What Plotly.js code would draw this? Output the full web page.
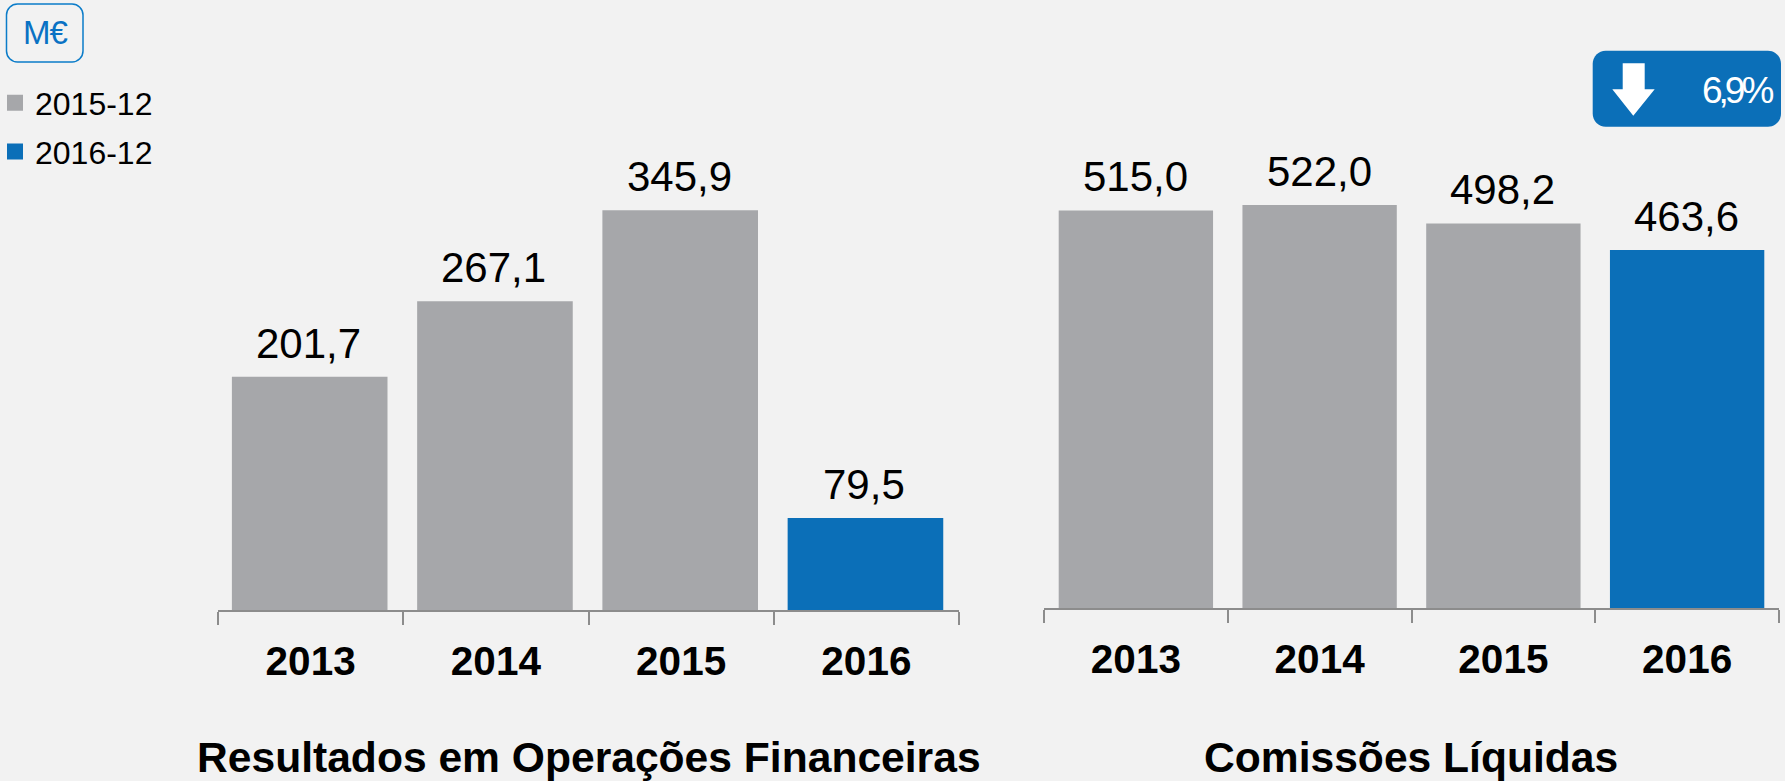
<!DOCTYPE html>
<html><head><meta charset="utf-8">
<script src="https://cdn.plot.ly/plotly-3.0.1.min.js"></script>
<style>html,body{margin:0;padding:0;background:#f2f2f2}#c{width:1785px;height:781px}</style>
</head><body><div id="c"></div>
<script>
const years = ['2013','2014','2015','2016'];
const resultados = [201.7,267.1,345.9,79.5];
const resultadosLabels = ['201,7','267,1','345,9','79,5'];
const comissoes = [515.0,522.0,498.2,463.6];
const comissoesLabels = ['515,0','522,0','498,2','463,6'];
const seriesNames = ['2015-12','2016-12'];
const GREY='#a6a7aa', BLUE='#0b6fb8', AXIS='#8c8c8c';
const W=1785,H=781;
const FONT='"Liberation Sans", Arial, sans-serif';
const px=x=>x/W, py=y=>1-y/H;
const colors=[GREY,GREY,GREY,BLUE];
const bar=(y,text,xa,ya,off)=>({type:'bar',x:years,y,customdata:text,xaxis:xa,yaxis:ya,showlegend:false,hovertemplate:'%{x}: %{customdata}<extra></extra>',
  width:0.84,offset:off,marker:{color:colors,line:{width:0}}});
const leg=(name,color,g)=>({type:'scatter',mode:'markers',x:[null],y:[null],xaxis:'x',yaxis:'y',name,legendgroup:g,showlegend:true,
  marker:{symbol:'square',size:16,color}});
const data=[bar(resultados,resultadosLabels,'x','y',-0.425),bar(comissoes,comissoesLabels,'x2','y2',-0.42),
  leg(seriesNames[0],GREY,'a'),leg(seriesNames[1],BLUE,'b')];
const xax=(d)=>({type:'category',categoryorder:'array',categoryarray:years,domain:d,range:[-0.5,3.5],
  tickson:'boundaries',ticks:'outside',ticklen:13,tickwidth:2,tickcolor:AXIS,showline:true,linecolor:AXIS,linewidth:2,
  showgrid:false,zeroline:false,ticklabelstandoff:14,fixedrange:true,
  tickfont:{family:FONT,size:40.5,color:'#000',weight:'bold'}});
const yax=(base,scale)=>({domain:[1-base/H,1],range:[0,base/scale],visible:false,fixedrange:true});
const titleAnn=(text,x,y)=>({text:'<b>'+text+'</b>',xref:'paper',yref:'paper',x:px(x),y:py(y),xanchor:'center',yanchor:'middle',showarrow:false,
  font:{family:FONT,size:42.6,color:'#000'}});
const valueAnns=(vals,labels,xa,ya,dx)=>vals.map((v,i)=>({text:labels[i],x:i,y:v,xref:xa,yref:ya,xanchor:'center',yanchor:'middle',yshift:33.5,xshift:dx,showarrow:false,
  font:{family:FONT,size:42,color:'#000'}}));
const layout={width:W,height:H,margin:{l:0,r:0,t:0,b:0},paper_bgcolor:'#f2f2f2',plot_bgcolor:'rgba(0,0,0,0)',
  barmode:'overlay',showlegend:true,
  xaxis:xax([px(218),px(959)]),yaxis:yax(610,1.156),
  xaxis2:Object.assign(xax([px(1044),px(1779)]),{anchor:'y2'}),yaxis2:Object.assign(yax(608,0.772),{anchor:'x2'}),
  legend:{x:0,y:py(75.5),xanchor:'left',yanchor:'top',bgcolor:'rgba(0,0,0,0)',tracegroupgap:4,indentation:-5,itemclick:false,itemdoubleclick:false,
    font:{family:FONT,size:32,color:'#000'}},
  annotations:[titleAnn('Resultados em Operações Financeiras',588.7,757),titleAnn('Comissões Líquidas',1411,757),
   ...valueAnns(resultados,resultadosLabels,'x','y',-2),...valueAnns(comissoes,comissoesLabels,'x2','y2',-0.5),
   {text:'<span style="letter-spacing:-1px">M€</span>',xref:'paper',yref:'paper',x:px(44.5),y:py(33),xanchor:'center',yanchor:'middle',showarrow:false,font:{family:FONT,size:33,color:'#0a72c4'}},
   {text:'<span style="letter-spacing:-4px">6,9%</span>',xref:'paper',yref:'paper',x:px(1737),y:py(90),xanchor:'center',yanchor:'middle',showarrow:false,font:{family:FONT,size:37,color:'#fff'}}
  ]};
// pixel-position shapes: unit box and badge with arrow (page furniture, not data)
const P=(x,y)=>px(x).toFixed(5)+','+py(y).toFixed(5);
const rr=(x0,y0,x1,y1,r)=>{const k=r*0.45;return 'M'+P(x0+r,y0)+'L'+P(x1-r,y0)+'C'+P(x1-k,y0)+' '+P(x1,y0+k)+' '+P(x1,y0+r)+'L'+P(x1,y1-r)+'C'+P(x1,y1-k)+' '+P(x1-k,y1)+' '+P(x1-r,y1)+'L'+P(x0+r,y1)+'C'+P(x0+k,y1)+' '+P(x0,y1-k)+' '+P(x0,y1-r)+'L'+P(x0,y0+r)+'C'+P(x0,y0+k)+' '+P(x0+k,y0)+' '+P(x0+r,y0)+'Z';};
layout.shapes=[
 {type:'path',xref:'paper',yref:'paper',path:rr(6.5,4,83,62,11),line:{color:'#0b7cc9',width:1.5},fillcolor:'rgba(0,0,0,0)'},
 {type:'path',xref:'paper',yref:'paper',path:rr(1592.7,50.7,1781,126.7,13),line:{width:0},fillcolor:BLUE},
 {type:'path',xref:'paper',yref:'paper',path:'M'+P(1622.7,63.3)+'L'+P(1644.7,63.3)+'L'+P(1644.7,89.3)+'L'+P(1654.7,89.3)+'L'+P(1633.3,115.7)+'L'+P(1612.3,89.3)+'L'+P(1622.7,89.3)+'Z',line:{width:0},fillcolor:'#fff'}
];
Plotly.newPlot('c',data,layout,{displayModeBar:false});
</script></body></html>
